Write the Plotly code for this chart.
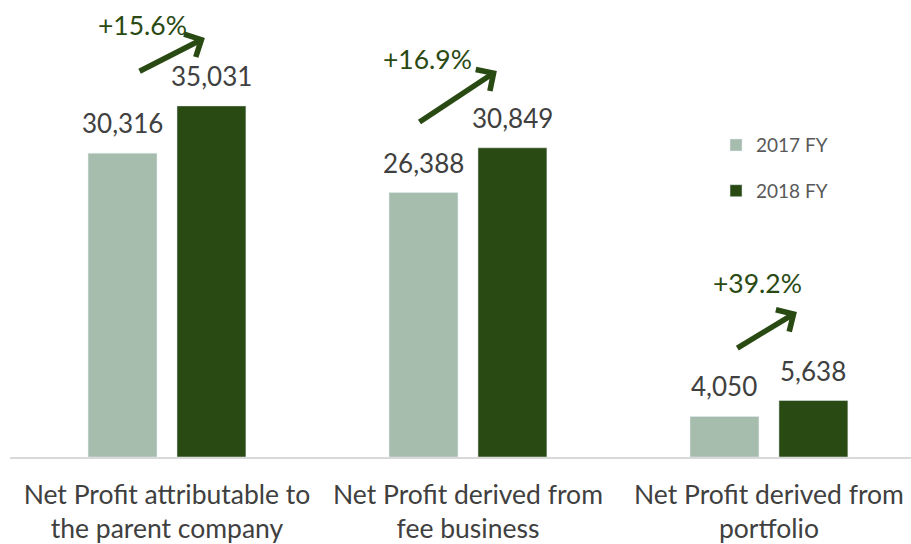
import plotly.graph_objects as go

categories = ["Net Profit attributable to<br>the parent company",
              "Net Profit derived from<br>fee business",
              "Net Profit derived from<br>portfolio"]
series_names = ["2017 FY", "2018 FY"]
values_2017 = [30316, 26388, 4050]
values_2018 = [35031, 30849, 5638]
growth_labels = ["+15.6%", "+16.9%", "+39.2%"]

LIGHT = "#A6BCAC"
DARK = "#2A4A13"
TXT = "#404040"
FONT = "Lato"

xs = list(range(len(categories)))
BARGAP = 0.409
OFF = (1 - BARGAP) / 4  # centre offset of each bar within a group

fig = go.Figure()
fig.add_trace(go.Bar(x=xs, y=values_2017, name=series_names[0], marker_color=LIGHT,
                     legendgroup="a", hoverinfo="y"))
fig.add_trace(go.Bar(x=xs, y=values_2018, name=series_names[1], marker_color=DARK,
                     legendgroup="b", hoverinfo="y"))

annotations = []
for i in xs:
    for off, vals in ((-OFF, values_2017), (OFF, values_2018)):
        annotations.append(dict(x=i + off, y=vals[i], xref="x", yref="y",
                                text=f"{vals[i]:,}", showarrow=False,
                                yanchor="middle", yshift=30,
                                font=dict(size=26, color=TXT, family=FONT)))

# arrow geometry (tail x, tail y, head x, head y, text x, text y) in data units
arrows = [
    (-0.096, 38420, 0.126, 41820, -0.08, 43110),
    (0.834, 33330, 1.096, 38520, 0.866, 39720),
    (1.890, 10780, 2.093, 14470, 1.963, 17360),
]
for (tx, ty, hx, hy, lx, ly), lab in zip(arrows, growth_labels):
    annotations.append(dict(x=hx, y=hy, ax=tx, ay=ty, xref="x", yref="y",
                            axref="x", ayref="y", text="", showarrow=True,
                            arrowhead=4, arrowsize=0.9, arrowwidth=5.5,
                            arrowcolor=DARK, standoff=0, startstandoff=0))
    annotations.append(dict(x=lx, y=ly, xref="x", yref="y", text=lab,
                            showarrow=False, font=dict(size=26.5, color=DARK, family=FONT)))

fig.update_layout(
    width=911, height=544,
    margin=dict(l=10, r=0, t=0, b=87),
    paper_bgcolor="white", plot_bgcolor="white",
    barmode="group", bargap=BARGAP, bargroupgap=0.225,
    font=dict(family=FONT, color=TXT),
    showlegend=True,
    legend=dict(x=0.7836, y=0.724, xanchor="left", yanchor="top",
                font=dict(size=19, color="#595959", family=FONT),
                traceorder="grouped", tracegroupgap=18,
                bgcolor="rgba(0,0,0,0)"),
    annotations=annotations,
)
fig.update_xaxes(range=[-0.5216, 2.472], tickvals=xs, ticktext=categories,
                 tickfont=dict(size=26.5, color=TXT, family=FONT),
                 showline=True, linecolor="#D9D9D9", linewidth=2,
                 ticks="outside", ticklen=13, tickcolor="rgba(0,0,0,0)",
                 showgrid=False, zeroline=False)
fig.update_yaxes(range=[0, 45600], visible=False, showgrid=False, zeroline=False)

fig.write_html("out.html", config={"displayModeBar": False},
               post_script="document.body.style.margin='0';")
